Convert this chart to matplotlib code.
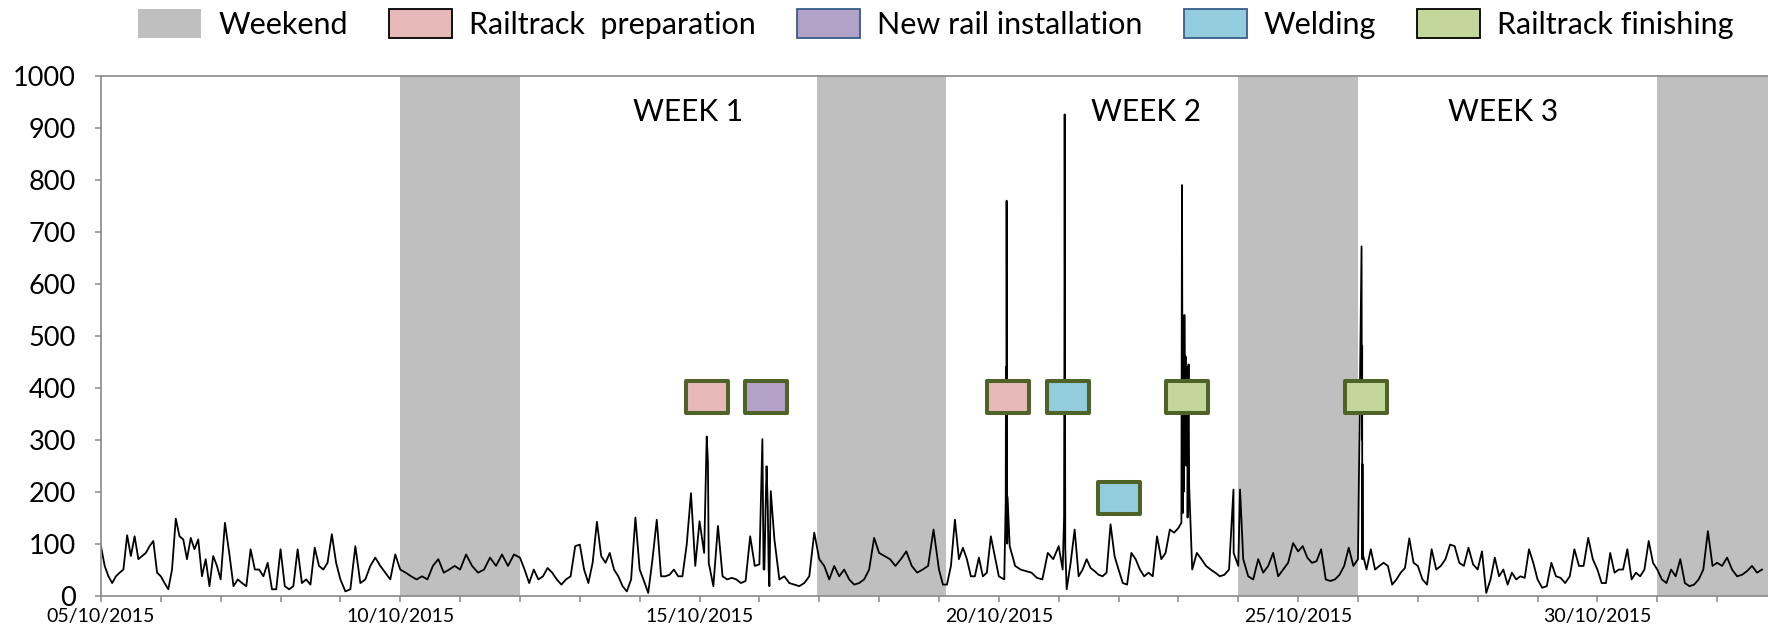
import numpy as np
import matplotlib.pyplot as plt
import matplotlib.dates as mdates
from matplotlib.markers import MarkerStyle
from matplotlib.patches import Patch
from matplotlib.path import Path

plt.rcParams['font.family'] = ['Lato', 'DejaVu Sans']

# Readings for each day (roughly every 2 hours), from 05/10/2015 on
oct05 = [95, 57, 37, 24, 37, 44, 50, 116, 76, 114, 70, 76, 82, 95, 105, 44]
oct06 = [37, 24, 12, 50, 148, 114, 108, 70, 111, 89, 108, 37, 70, 18, 76, 57]
oct07 = [31, 140, 82, 18, 31, 24, 18, 89, 50, 50, 37, 63, 12, 12]
oct08 = [89, 18, 12, 18, 89, 24, 31, 21, 92, 57, 50, 63, 118, 63]
oct09 = [31, 8, 12, 95, 24, 31, 57, 73, 57, 44, 31, 79]
oct10 = [50, 44, 37, 31, 37, 31, 57, 70, 44, 50, 57]
oct11 = [50, 79, 57, 44, 50, 73, 57, 79, 57, 79]
oct12 = [73, 50, 24, 50, 31, 37, 53, 44, 31, 21, 31, 37, 95]
oct13 = [98, 50, 24, 63, 142, 76, 63, 82, 50, 37, 18, 8, 31, 150]
oct14 = [50, 28, 5, 70, 146, 37, 37, 40, 50, 37, 37, 98, 197, 57]
oct15 = [143, 82, 63, 18, 134, 37, 31, 34, 31, 24, 28, 114, 57]
oct16 = [60, 50, 18, 109, 31, 37, 24, 21, 18, 24, 37, 121]
oct17 = [70, 57, 31, 57, 37, 50, 31, 21, 24, 31, 50, 111]
oct18 = [82, 76, 70, 57, 70, 85, 57, 44, 50, 57, 127]
oct19 = [50, 21, 21, 57, 146, 70, 92, 70, 37, 37, 73, 37, 44, 114, 76]
oct20 = [37, 31, 95, 57, 50, 47, 44, 34, 31, 82, 70]
oct21 = [95, 50, 12, 63, 127, 37, 50, 70, 53, 47, 40, 37, 44, 137, 76]
oct22 = [50, 24, 21, 82, 70, 50, 37, 44, 37, 114, 70, 82, 127, 121]
oct23 = [130, 159, 150, 50, 82, 70, 57, 50, 44, 37, 40, 50, 82]
oct24 = [57, 70, 37, 31, 70, 44, 57, 82, 37, 50, 63, 101]
oct25 = [85, 95, 73, 63, 66, 89, 31, 28, 31, 40, 57, 92, 57]
oct26 = [70, 70, 50, 89, 50, 57, 63, 57, 21, 31, 44, 53, 110, 63]
oct27 = [57, 31, 21, 89, 50, 57, 70, 98, 95, 63, 57, 92, 60]
oct28 = [50, 85, 5, 31, 73, 37, 50, 21, 44, 31, 37, 34, 89, 63]
oct29 = [31, 15, 18, 63, 37, 34, 24, 37, 89, 57, 57, 111, 70]
oct30 = [50, 24, 24, 82, 44, 50, 50, 89, 31, 44, 37, 50, 105, 63]
oct31 = [50, 31, 24, 50, 37, 70, 24, 18, 21, 31, 50, 124, 57]
nov01 = [63, 57, 73, 50, 37, 40, 47, 57, 44, 50]
days = [oct05, oct06, oct07, oct08, oct09, oct10, oct11, oct12, oct13, oct14,
        oct15, oct16, oct17, oct18, oct19, oct20, oct21, oct22, oct23, oct24,
        oct25, oct26, oct27, oct28, oct29, oct30, oct31, nov01]

# Short peaks during the works (days since 05/10/2015)
spike_day = [10.12, 10.14,
             11.05, 11.07, 11.11, 11.12, 11.14, 11.155, 11.19,
             15.115, 15.12, 15.125, 15.13, 15.135, 15.14, 15.145,
             16.09, 16.095, 16.10, 16.105, 16.11,
             18.05, 18.06, 18.07, 18.08, 18.09, 18.10, 18.11, 18.12, 18.13,
             18.14, 18.15, 18.16, 18.17, 18.18,
             18.92, 19.03,
             21.06, 21.065, 21.07, 21.075, 21.08]
spike_val = [306, 258,
             301, 50, 203, 249, 171, 50, 201,
             180, 440, 120, 760, 420, 100, 190,
             150, 430, 926, 420, 90,
             140, 790, 300, 450, 200, 540, 380, 460, 250,
             440, 420, 300, 445, 210,
             204, 204,
             672, 300, 480, 253, 80]

weekend_start = ['2015-10-10 00:00', '2015-10-16 23:00', '2015-10-24 00:00', '2015-10-31 00:00']
weekend_end = ['2015-10-12 00:00', '2015-10-19 03:00', '2015-10-26 00:00', '2015-11-02 00:00']

week_labels = ['WEEK 1', 'WEEK 2', 'WEEK 3']
week_day = [9.81, 17.46, 23.42]

# Works on the track: day since 05/10/2015, level, fill colour
event_day = [10.12, 11.11, 15.16, 16.16, 17.01, 18.15, 21.14]
event_level = [382, 382, 382, 382, 187, 382, 382]
event_color = ['#E6B9B8', '#B3A2C7', '#E6B9B8', '#93CDDD', '#93CDDD', '#C3D69B', '#C3D69B']

legend_labels = ['Weekend', 'Railtrack  preparation', 'New rail installation', 'Welding', 'Railtrack finishing']
legend_face = ['#BFBFBF', '#E6B9B8', '#B3A2C7', '#93CDDD', '#C3D69B']
legend_edge = ['none', 'black', '#385D8A', '#385D8A', 'black']

t0 = mdates.datestr2num('2015-10-05')

t, v = [], []
for i, vals in enumerate(days):
    step = 1 / len(vals) if i < len(days) - 1 else 1 / 12
    for k, val in enumerate(vals):
        t.append(i + k * step)
        v.append(val)
t = np.array(t + spike_day)
v = np.array(v + spike_val)
order = np.argsort(t, kind='stable')
t, v = t[order], v[order]

fig = plt.figure(figsize=(17.68, 6.27), dpi=100)
ax = fig.add_axes([0.0571, 0.0502, 0.9429, 0.8286])

for a, b in zip(weekend_start, weekend_end):
    ax.axvspan(mdates.datestr2num(a), mdates.datestr2num(b), color='#BFBFBF', lw=0, zorder=0)

ax.plot(t0 + t, v, color='black', lw=1.3, zorder=2)

for lab, d in zip(week_labels, week_day):
    ax.text(t0 + d, 930, lab, ha='center', va='center', fontsize=21.5)

box = Path([(-1, -0.755), (1, -0.755), (1, 0.755), (-1, 0.755), (-1, -0.755)],
           [Path.MOVETO, Path.LINETO, Path.LINETO, Path.LINETO, Path.CLOSEPOLY])
box_marker = MarkerStyle(box, joinstyle='round')
for d, lvl, c in zip(event_day, event_level, event_color):
    ax.plot(t0 + d, lvl, linestyle='none', marker=box_marker, markersize=30.2,
            markerfacecolor=c, markeredgecolor='#4F6228', markeredgewidth=2.9, zorder=3)

ax.set_xlim(t0, t0 + 27.85)
ax.set_ylim(0, 1000)
ax.set_yticks(np.arange(0, 1001, 100))

ax.xaxis.set_major_locator(mdates.DayLocator(bymonthday=[5, 10, 15, 20, 25, 30]))
ax.xaxis.set_major_formatter(mdates.DateFormatter('%d/%m/%Y'))
ax.xaxis.set_minor_locator(mdates.DayLocator())

for side in ['left', 'bottom', 'top']:
    ax.spines[side].set_color('#898989')
    ax.spines[side].set_linewidth(1.2)
ax.spines['right'].set_visible(False)

ax.tick_params(axis='both', which='both', direction='out', color='#898989', width=1.1, length=4)
ax.tick_params(axis='y', labelsize=19.5, pad=14)
ax.tick_params(axis='x', labelsize=14, pad=5)

handles = [Patch(facecolor=f, edgecolor=e, linewidth=1.3) for f, e in zip(legend_face, legend_edge)]
fig.legend(handles, legend_labels, loc='upper left', bbox_to_anchor=(138 / 1768, 1 - 9 / 627),
           ncol=5, frameon=False, fontsize=22, borderpad=0, borderaxespad=0,
           handlelength=2.06, handleheight=1.08, handletextpad=0.56, columnspacing=1.35)

fig.savefig('out.png', dpi=100)
